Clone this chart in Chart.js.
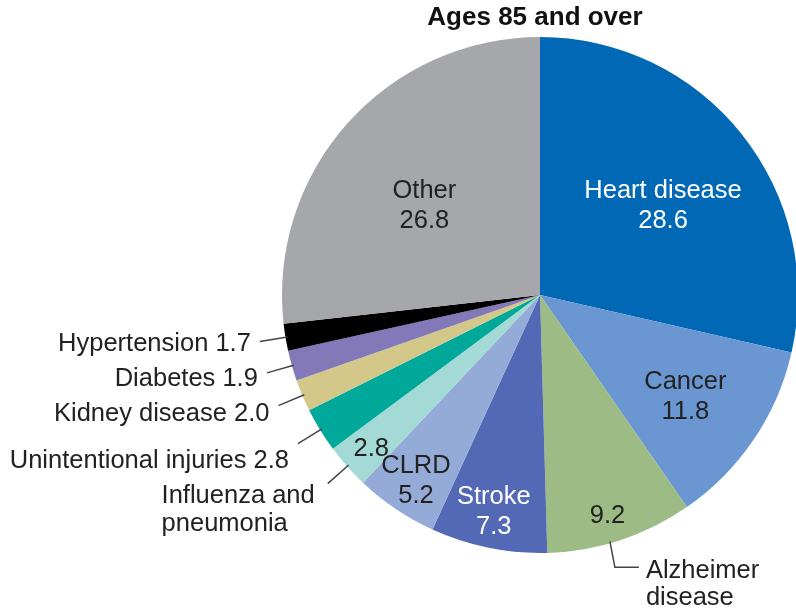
<!DOCTYPE html>
<html>
<head>
<meta charset="utf-8">
<script src="https://cdn.jsdelivr.net/npm/chart.js@4"></script>
<style>
  html, body { margin:0; padding:0; background:#fff; overflow:hidden; }
  #wrap { width:796px; height:609px; overflow:hidden; position:relative; }
  canvas { position:absolute; left:0; top:0; }
</style>
</head>
<body>
<div id="wrap"><canvas id="chart" width="820" height="609"></canvas></div>
<script>
let chartTitle = "Ages 85 and over";
let causes = ["Heart disease","Cancer","Alzheimer disease","Stroke","CLRD",
  "Influenza and pneumonia","Unintentional injuries","Kidney disease",
  "Diabetes","Hypertension","Other"];
let shares = [28.6, 11.8, 9.2, 7.3, 5.2, 2.8, 2.8, 2.0, 1.9, 1.7, 26.8];

// styling per slice
let colors = ["#0068b4","#6a97d2","#9dbb85","#5469b5","#94abd8","#a3dad6",
  "#00a89a","#d3c88a","#8378b8","#000000","#a6a7ab"];
// in = name+value inside, split = value inside / name outside, out = one line outside
let labelMode = ["in","in","split","in","in","split","out","out","out","out","in"];
let labelRad = [0.59,0.68,0.89,0.86,0.86,0.88,0,0,0,0,0.57];
let labelColor = ["#fff","#222","#222","#fff","#222","#222","#222","#222","#222","#222","#222"];
let inDx = [4,0,-4,-2,0,1,0,0,0,0,-6];
let inDy = [6,4,3,0,2,3,0,0,0,0,9];
let outDy = [0,0,0,0,0,0,17,8,6,2,0];

const FONT = "25.5px 'Liberation Sans', Arial, sans-serif";
const INK = "#222";

function wrap(ctx, text, maxW){
  let words = text.split(" "), lines = [], cur = "";
  words.forEach(w=>{
    let t = cur ? cur + " " + w : w;
    if(ctx.measureText(t).width > maxW && cur){ lines.push(cur); cur = w; }
    else cur = t;
  });
  lines.push(cur);
  return lines;
}

const labelPlugin = {
  id:"labels",
  afterDatasetsDraw(chart){
    let ctx = chart.ctx;
    let arcs = chart.getDatasetMeta(0).data;
    ctx.save();
    ctx.font = FONT;
    ctx.textBaseline = "middle";

    arcs.forEach((a,i)=>{
      let mid = (a.startAngle + a.endAngle)/2;
      let R = a.outerRadius;
      let val = shares[i].toFixed(1);
      let mode = labelMode[i];

      if(mode==="in" || mode==="split"){
        let px = a.x + Math.cos(mid)*R*labelRad[i] + inDx[i];
        let py = a.y + Math.sin(mid)*R*labelRad[i] + inDy[i];
        ctx.fillStyle = labelColor[i];
        ctx.textAlign = "center";
        if(mode==="in"){
          ctx.fillText(causes[i], px, py-15);
          ctx.fillText(val, px, py+15);
        } else {
          ctx.fillText(val, px, py);
        }
      }

      ctx.strokeStyle = "#444";
      ctx.lineWidth = 1.5;
      ctx.fillStyle = INK;

      if(mode==="out"){
        let x1 = a.x + Math.cos(mid)*(R-2), y1 = a.y + Math.sin(mid)*(R-2);
        let x2 = a.x + Math.cos(mid)*(R+26), y2 = a.y + Math.sin(mid)*(R+26);
        ctx.beginPath(); ctx.moveTo(x1,y1); ctx.lineTo(x2,y2); ctx.stroke();
        ctx.textAlign = "right";
        ctx.fillText(causes[i] + " " + val, x2-9, y2+outDy[i]);
      }

      if(mode==="split"){
        let lines = wrap(ctx, causes[i], 170);
        if(Math.cos(mid) < 0){
          // label to the lower left
          let x1 = a.x + Math.cos(mid)*(R-2), y1 = a.y + Math.sin(mid)*(R-2);
          let x2 = a.x + Math.cos(mid)*(R+26), y2 = a.y + Math.sin(mid)*(R+26);
          ctx.beginPath(); ctx.moveTo(x1,y1); ctx.lineTo(x2,y2); ctx.stroke();
          let w = ctx.measureText(lines[0]).width;
          ctx.textAlign = "left";
          lines.forEach((l,k)=> ctx.fillText(l, x2-13-w, y2+12+k*28));
        } else {
          // elbow leader below the slice
          let ang = a.startAngle + (a.endAngle-a.startAngle)*0.57;
          let x1 = a.x + Math.cos(ang)*(R-2), y1 = a.y + Math.sin(ang)*(R-2);
          let ex = x1+5, ey = y1+26;
          ctx.beginPath(); ctx.moveTo(x1,y1); ctx.lineTo(ex,ey); ctx.lineTo(ex+24,ey); ctx.stroke();
          ctx.textAlign = "left";
          lines.forEach((l,k)=> ctx.fillText(l, ex+31, ey+4+k*27));
        }
      }
    });

    // title
    ctx.font = "bold 26px 'Liberation Sans', Arial, sans-serif";
    ctx.fillStyle = "#111";
    ctx.textAlign = "center";
    ctx.fillText(chartTitle, 535, 18);
    ctx.restore();
  }
};

new Chart(document.getElementById("chart"), {
  type:"pie",
  data:{
    labels:causes,
    datasets:[{data:shares, backgroundColor:colors, borderWidth:0}]
  },
  options:{
    responsive:false,
    animation:false,
    layout:{padding:{left:282, right:22, top:37, bottom:56}},
    plugins:{legend:{display:false}, tooltip:{enabled:false}}
  },
  plugins:[labelPlugin]
});
</script>
</body>
</html>
